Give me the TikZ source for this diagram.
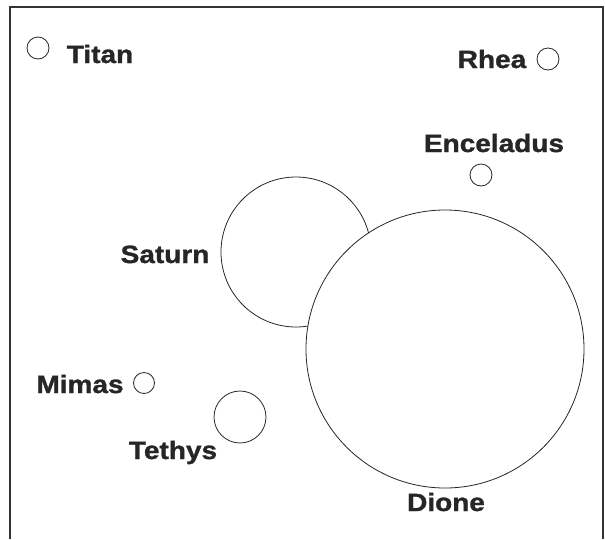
\documentclass[tikz,border=0pt]{standalone}
\usepackage{fontspec}
\newfontfamily\labfont{Liberation Sans}[FakeStretch=1.12, BoldFeatures={FakeBold=1.2}]
\begin{document}
\begin{tikzpicture}[x=1pt,y=-1pt,
  moon/.style={circle,draw=black!85,line width=0.8pt,fill=white,inner sep=0pt,minimum size=#1},
  lab/.style={anchor=base,inner sep=0pt,font=\labfont\bfseries\fontsize{25}{25}\selectfont,text=black!85}]
\useasboundingbox (0,0) rectangle (605,539);
\draw[line width=1.2pt,black!80] (10,539) -- (10,7) -- (603,7) -- (603,539);
% moons and planet
\node[moon=22pt] (titanC) at (38,48) {};
\node[moon=22pt] (rheaC) at (548,59) {};
\node[moon=22pt] (encC) at (481,175) {};
\node[moon=150pt] (saturnC) at (296,252) {};
\node[moon=278pt] (dioneC) at (445,349) {};
\node[moon=21pt] (mimasC) at (144,383) {};
\node[moon=52pt] (tethysC) at (240,417) {};
% labels
\node[lab] (titan) at (100,63) {Titan};
\node[lab] (rhea) at (492,68) {Rhea};
\node[lab] (enc) at (494,152) {Enceladus};
\node[lab] (saturn) at (165,263) {Saturn};
\node[lab] (mimas) at (80,393) {Mimas};
\node[lab] (tethys) at (173,459) {Tethys};
\node[lab] (dione) at (446,511) {Dione};
\end{tikzpicture}
\end{document}
